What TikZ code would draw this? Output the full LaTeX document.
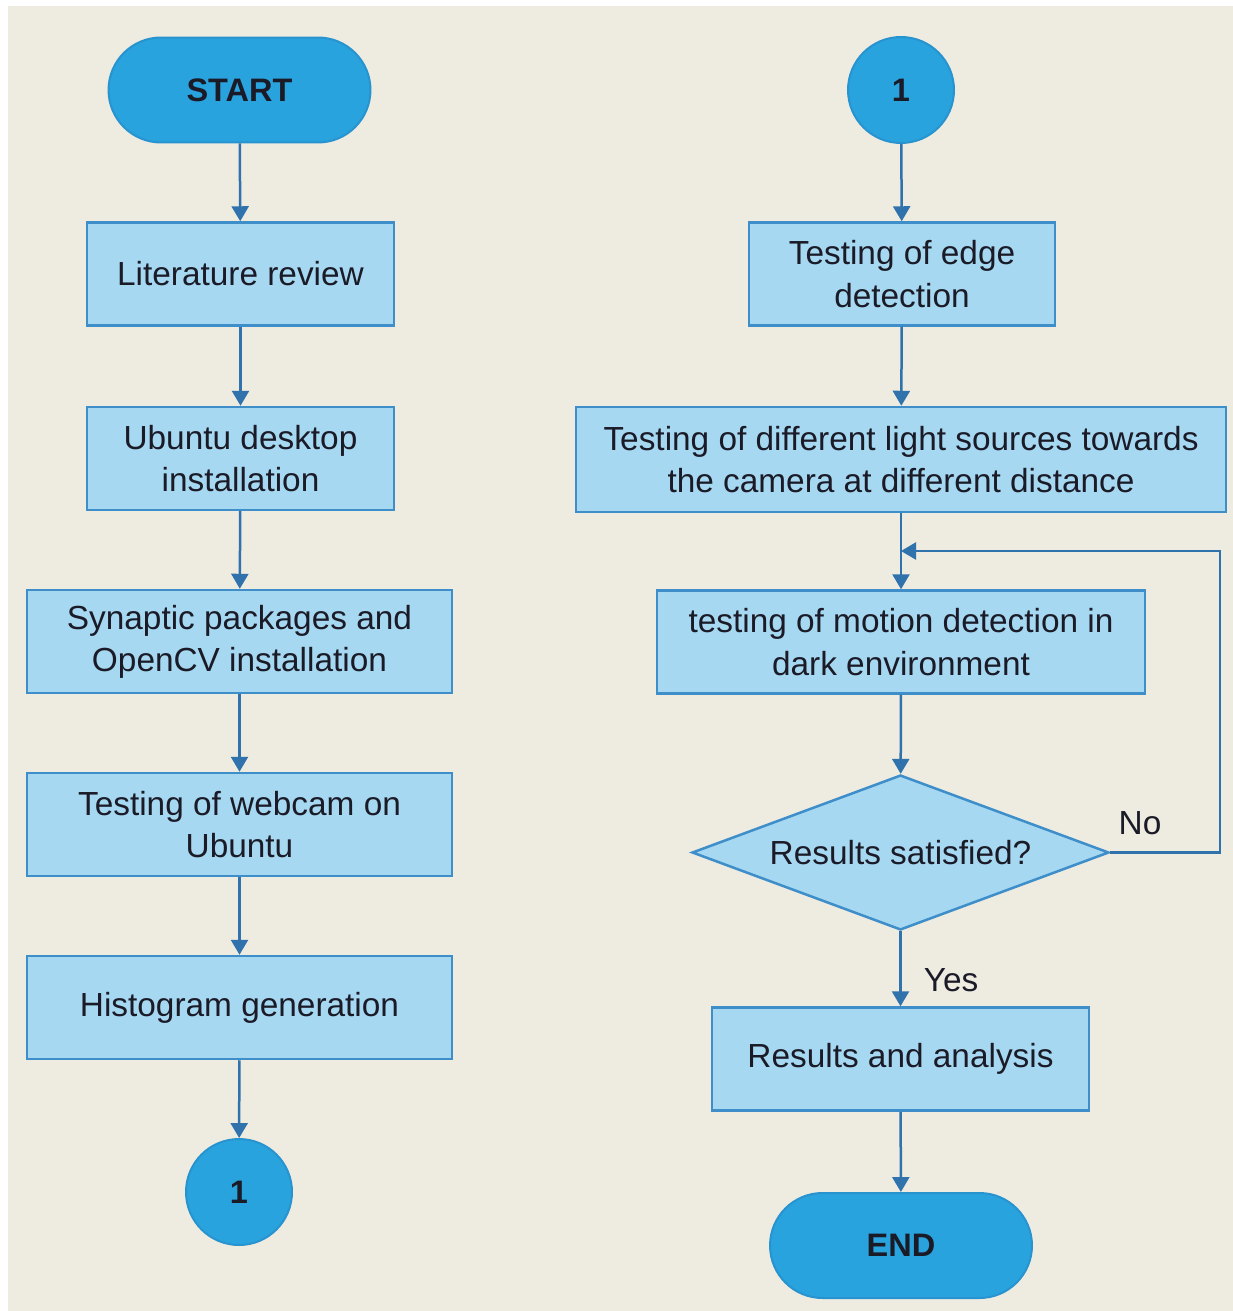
\documentclass[tikz,border=0pt]{standalone}
\usepackage{fontspec}
\setmainfont{Liberation Sans}
\usetikzlibrary{shapes.geometric,arrows.meta}

\definecolor{bgbeige}{HTML}{EEEBE1}
\definecolor{termblue}{HTML}{29A3DE}
\definecolor{termedge}{HTML}{2793CF}
\definecolor{boxblue}{HTML}{A6D8F1}
\definecolor{boxedge}{HTML}{3E8ECA}
\definecolor{arrowblue}{HTML}{2F72AC}
\definecolor{inkdark}{HTML}{1B1B28}

\tikzset{
    >={Triangle[width=0.34cm,length=0.3cm]},
    every node/.style={text=inkdark, font=\fontsize{19}{24}\selectfont},
    terminal/.style={draw=termedge, fill=termblue, line width=0.04cm, rounded corners=1.05cm,
        minimum width=5.24cm, minimum height=2.1cm, font=\fontsize{18.5}{24}\selectfont\bfseries},
    connector/.style={draw=termedge, fill=termblue, line width=0.04cm, circle, inner sep=0pt,
        minimum size=2.12cm, font=\fontsize{18.5}{24}\selectfont\bfseries},
    process/.style={draw=boxedge, fill=boxblue, line width=0.05cm, align=center,
        minimum height=2.06cm},
    decision/.style={draw=boxedge, fill=boxblue, line width=0.05cm, diamond, inner sep=0pt,
        shape aspect=2.7, minimum width=8.34cm, minimum height=3.1cm},
    flow/.style={->, draw=arrowblue, line width=0.05cm}
}

\begin{document}
\begin{tikzpicture}[x=0.02cm, y=-0.02cm]

    \fill[white] (0,0) rectangle (1233,1311);
    \fill[bgbeige] (8,6) rectangle (1233,1311);
    \useasboundingbox (0,0) rectangle (1233,1311);

    % left column
    \node[terminal] (start) at (239.5,90) {START};
    \node[process, minimum width=6.14cm] (lit) at (240.5,274) {Literature review};
    \node[process, minimum width=6.14cm] (ubuntu) at (240.5,458.5) {Ubuntu desktop\\installation};
    \node[process, minimum width=8.5cm] (synaptic) at (239.5,641.5) {Synaptic packages and\\OpenCV installation};
    \node[process, minimum width=8.5cm] (webcam) at (239.5,824.5) {Testing of webcam on\\Ubuntu};
    \node[process, minimum width=8.5cm] (hist) at (239.5,1007.5) {Histogram generation};
    \node[connector] (goto1) at (239,1192) {1};

    % right column
    \node[connector] (from1) at (901,90) {1};
    \node[process, minimum width=6.12cm] (edge) at (902,274) {Testing of edge\\detection};
    \node[process, minimum width=13cm, minimum height=2.1cm] (light) at (901,459.5) {Testing of different light sources towards\\the camera at different distance};
    \coordinate (merge) at (901,551);
    \coordinate (loopc) at (1220,551);
    \node[process, minimum width=9.76cm] (motion) at (901,642) {testing of motion detection in\\dark environment};
    \node[decision] (check) at (900.5,852.5) {Results satisfied?};
    \node[process, minimum width=7.54cm] (results) at (900.5,1059) {Results and analysis};
    \node[terminal] (end) at (901,1245.5) {END};

    \node (no) at (1140,823) {No};
    \node (yes) at (951,980) {Yes};

    \draw[flow] (start) -- (lit);
    \draw[flow] (lit) -- (ubuntu);
    \draw[flow] (ubuntu) -- (synaptic);
    \draw[flow] (synaptic) -- (webcam);
    \draw[flow] (webcam) -- (hist);
    \draw[flow] (hist) -- (goto1);

    \draw[flow] (from1) -- (edge);
    \draw[flow] (edge) -- (light);
    \draw[flow] (light) -- (motion);
    \draw[flow] (motion) -- (check);
    \draw[flow] (check) -- (results);
    \draw[flow] (results) -- (end);
    \draw[flow] (check.east) -| (loopc) -- (merge);

\end{tikzpicture}
\end{document}
